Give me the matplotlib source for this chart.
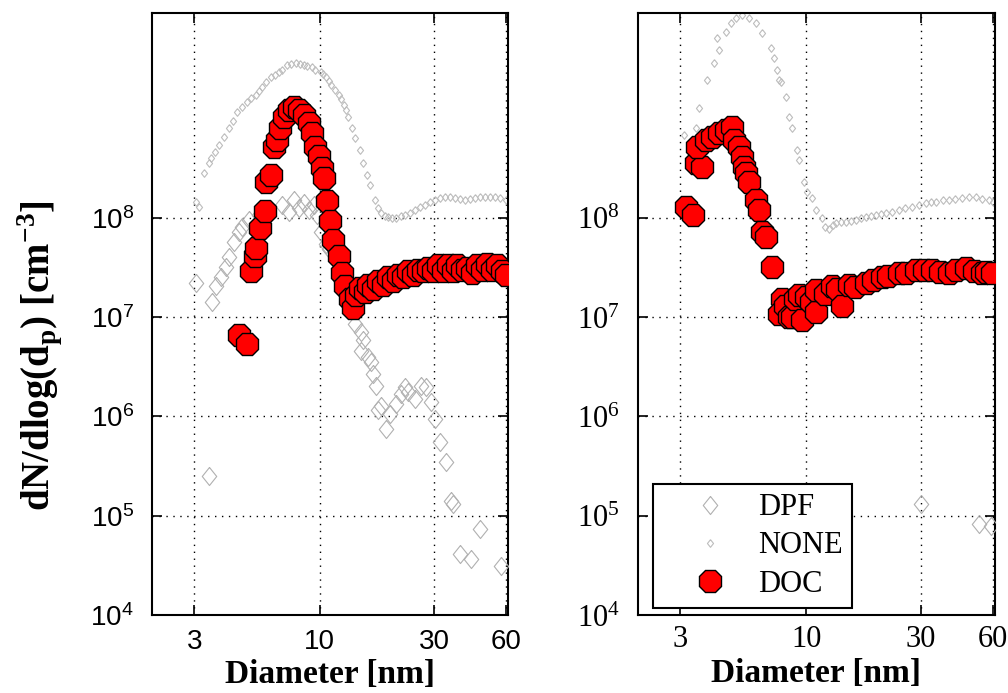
import matplotlib
matplotlib.use('Agg')
import matplotlib.pyplot as plt
import numpy as np

plt.rcParams['mathtext.fontset'] = 'custom'
plt.rcParams['mathtext.rm'] = 'Liberation Serif'
plt.rcParams['mathtext.bf'] = 'Liberation Serif:bold'
plt.rcParams['mathtext.sf'] = 'Liberation Sans'

# ---- left panel data ----
dpf_l_d = [3.06, 3.46, 3.56, 3.70, 3.88, 4.07, 4.19, 4.40, 4.61, 4.75, 5.08, 5.58,
           6.96, 7.44, 7.80, 8.18, 8.58, 9.00, 9.44, 9.72, 10.1, 10.6, 10.9, 12.0, 13.2,
           14.1, 14.9, 15.2, 14.9, 16.0, 16.4, 16.7, 17.2, 18.1, 17.6, 19.0, 19.7, 20.9,
           21.9, 22.7, 23.4, 25.0, 26.5, 27.8, 29.2, 30.3, 31.8, 33.7, 35.3, 36.0, 46.6,
           38.5, 42.7, 56.9]
dpf_l_n = [2.2e7, 2.5e5, 1.43e7, 2.03e7, 2.5e7, 3.2e7, 4.06e7, 5.7e7, 7.1e7, 8.1e7, 9.55e7, 1.07e8,
           1.35e8, 1.15e8, 1.52e8, 1.26e8, 1.42e8, 1.2e8, 1.35e8, 1.07e8, 7.2e7, 5.4e7, 4.8e7, 2.4e7, 1.34e7,
           8.4e6, 7.1e6, 5.9e6, 4.5e6, 4.0e6, 3.5e6, 2.64e6, 2.0e6, 1.26e6, 1.17e6, 7.4e5, 1.05e6, 1.32e6,
           1.66e6, 1.95e6, 1.74e6, 1.48e6, 2.0e6, 1.95e6, 1.39e6, 9.3e5, 5.5e5, 3.45e5, 1.4e5, 1.3e5, 7.3e4,
           4.1e4, 3.65e4, 3.1e4]

none_l_d = [3.06, 3.15, 3.30, 3.46, 3.53, 3.65, 3.81, 4.0, 4.19, 4.35, 4.52, 4.75, 4.98, 5.2,
            5.43, 5.6, 5.74, 6.0, 6.26, 6.5, 6.76, 7.0, 7.30, 7.6, 7.95, 8.3, 8.58, 8.9, 9.26,
            9.6, 10.1, 10.35, 10.6, 10.9, 11.2, 11.6, 12.0, 12.3, 12.6, 12.9, 13.2, 13.6, 14.1,
            14.8, 15.2, 15.7, 16.3, 17.1, 17.6, 18.1, 18.7, 19.3, 20.0, 20.9, 21.8, 22.7, 23.8,
            25.0, 26.2, 27.5, 28.9, 30.3, 31.8, 33.3, 35.0, 36.7, 38.5, 40.4, 42.4, 44.4, 46.6,
            48.8, 51.2, 53.8, 56.5, 59.7]
none_l_n = [1.45e8, 1.29e8, 2.83e8, 3.57e8, 4.0e8, 4.6e8, 5.4e8, 6.5e8, 8.0e8, 9.5e8, 1.16e9,
            1.3e9, 1.47e9, 1.6e9, 1.72e9, 1.9e9, 2.07e9, 2.3e9, 2.61e9, 2.75e9, 2.93e9, 3.1e9,
            3.45e9, 3.55e9, 3.61e9, 3.55e9, 3.45e9, 3.4e9, 3.3e9, 3.1e9, 2.93e9, 2.8e9, 2.61e9,
            2.4e9, 2.17e9, 1.95e9, 1.72e9, 1.55e9, 1.37e9, 1.2e9, 1.04e9, 8.0e8, 6.37e8, 4.8e8,
            3.57e8, 2.7e8, 2.15e8, 1.52e8, 1.26e8, 1.12e8, 1.05e8, 1.02e8, 1.0e8, 1.0e8, 1.03e8,
            1.07e8, 1.12e8, 1.2e8, 1.28e8, 1.35e8, 1.45e8, 1.52e8, 1.58e8, 1.63e8, 1.62e8, 1.59e8,
            1.55e8, 1.52e8, 1.55e8, 1.59e8, 1.62e8, 1.63e8, 1.63e8, 1.63e8, 1.58e8, 1.52e8]

doc_l_d = [4.61, 4.98, 5.16, 5.37, 5.44, 5.67, 5.90, 5.99, 6.28, 6.45, 6.65, 6.87, 7.09, 7.44,
           7.80, 8.18, 8.58, 9.0, 9.29, 9.6, 9.9, 10.2, 10.4, 10.7, 11.1, 11.4, 12.0, 12.4, 12.8,
           13.4, 13.8, 14.2, 14.8, 15.4, 15.9, 16.7, 17.5, 18.4, 19.3, 20.3, 21.2, 22.3, 23.4,
           24.6, 25.7, 27.0, 28.3, 29.7, 31.1, 32.6, 34.2, 35.9, 37.6, 39.4, 41.4, 43.4, 45.5,
           47.7, 50.1, 52.5, 55.1, 57.8, 60.0]
doc_l_n = [6.6e6, 5.3e6, 2.9e7, 4.1e7, 4.96e7, 7.9e7, 1.16e8, 2.3e8, 2.7e8, 5.2e8, 6.1e8, 7.97e8,
           1.04e9, 1.22e9, 1.31e9, 1.22e9, 1.08e9, 8.95e8, 7.1e8, 5.2e8, 4.13e8, 3.16e8, 2.5e8,
           1.46e8, 9.2e7, 6.0e7, 4.1e7, 2.78e7, 2.04e7, 1.5e7, 1.24e7, 1.68e7, 1.98e7, 1.8e7,
           2.1e7, 1.9e7, 2.28e7, 2.1e7, 2.5e7, 2.3e7, 2.67e7, 2.5e7, 2.87e7, 2.67e7, 3.0e7, 2.87e7,
           3.14e7, 2.87e7, 3.3e7, 2.93e7, 3.37e7, 2.87e7, 3.3e7, 3.0e7, 3.14e7, 2.8e7, 3.37e7,
           3.0e7, 3.45e7, 3.0e7, 3.3e7, 2.87e7, 2.67e7]

# ---- right panel data ----
dpf_r_d = [30.0, 52.2, 58.6]
dpf_r_n = [1.3e5, 8.2e4, 7.9e4]

none_r_d = [3.12, 3.50, 3.60, 3.88, 4.15, 4.36, 4.27, 4.66, 4.88, 5.12, 5.43, 5.80, 6.20, 6.57,
            7.16, 7.37, 7.58, 7.73, 7.88, 8.26, 8.50, 8.75, 9.18, 9.35, 9.81, 10.1, 10.6, 11.0,
            11.65, 12.0, 12.5, 12.9, 13.3, 14.0, 14.7, 15.4, 16.1, 16.9, 17.7, 18.6, 19.5, 20.5,
            21.5, 22.8, 24.3, 25.8, 27.5, 29.5, 31.5, 33.0, 34.6, 37.0, 39.2, 41.8, 44.4, 47.5,
            50.7, 54.0, 57.4, 59.9]
none_r_n = [6.8e8, 8.0e8, 1.28e9, 2.44e9, 3.61e9, 4.88e9, 6.44e9, 7.4e9, 9.1e9, 1.02e10, 1.1e10,
            1.02e10, 9.1e9, 7.2e9, 5.1e9, 4.06e9, 3.07e9, 2.44e9, 2.33e9, 1.64e9, 1.04e9, 8.0e8,
            4.8e8, 3.83e8, 2.3e8, 1.82e8, 1.59e8, 1.2e8, 1.0e8, 8.0e7, 7.6e7, 8.5e7, 8.9e7, 9.0e7,
            9.1e7, 9.3e7, 9.55e7, 1.0e8, 1.02e8, 1.05e8, 1.07e8, 1.1e8, 1.12e8, 1.15e8, 1.2e8,
            1.25e8, 1.29e8, 1.35e8, 1.42e8, 1.45e8, 1.45e8, 1.5e8, 1.52e8, 1.55e8, 1.59e8, 1.6e8,
            1.63e8, 1.55e8, 1.52e8, 1.45e8]

doc_r_d = [3.18, 3.37, 3.50, 3.70, 3.53, 3.85, 4.07, 4.36, 4.66, 4.93, 5.03, 5.27, 5.43, 5.5,
           5.64, 5.80, 6.20, 6.38, 6.57, 6.82, 7.22, 7.95, 7.73, 8.2, 8.50, 8.75, 9.0, 9.35, 9.62,
           10.0, 10.5, 11.0, 11.0, 12.0, 12.8, 13.5, 14.1, 15.1, 16.0, 17.7, 19.0, 20.7, 22.0,
           24.3, 26.0, 28.6, 31.0, 33.3, 36.0, 39.2, 42.0, 46.1, 50.0, 53.7, 56.0, 59.5]
doc_r_n = [1.29e8, 1.07e8, 3.57e8, 3.26e8, 5.2e8, 6.1e8, 6.5e8, 7.1e8, 7.7e8, 8.2e8, 6.1e8, 5.2e8,
           4.1e8, 3.26e8, 2.83e8, 2.3e8, 1.52e8, 1.2e8, 7.1e7, 6.4e7, 3.2e7, 1.5e7, 1.06e7, 1.3e7,
           1.0e7, 1.0e7, 1.5e7, 1.68e7, 9.4e6, 1.6e7, 1.4e7, 1.13e7, 1.89e7, 1.7e7, 2.03e7, 1.9e7,
           1.28e7, 2.12e7, 2.0e7, 2.22e7, 2.35e7, 2.55e7, 2.6e7, 2.8e7, 2.75e7, 3.0e7, 2.95e7,
           3.0e7, 2.85e7, 2.8e7, 3.0e7, 3.14e7, 2.9e7, 2.8e7, 2.85e7, 2.8e7]

xticks = [3, 10, 30, 60]
yticks = [1e4, 1e5, 1e6, 1e7, 1e8]

diamond = [(0, 1), (0.8, 0), (0, -1), (-0.8, 0), (0, 1)]
gray_big = '#b0b0b0'
gray_small = '#bdbdbd'


def draw_panel(ax, dpf, none, doc, serif):
    ax.plot(none[0], none[1], ls='none', marker=diamond, ms=5.5, mfc='none',
            mec=gray_small, mew=0.8, label='NONE', zorder=2)
    ax.plot(dpf[0], dpf[1], ls='none', marker=diamond, ms=13, mfc='none',
            mec=gray_big, mew=0.8, label='DPF', zorder=3)
    for i, (x, y) in enumerate(zip(doc[0], doc[1])):
        ax.plot([x], [y], ls='none', marker='8', ms=17, mfc='red', mec='black',
                mew=1.0, zorder=4, label='DOC' if i == 0 else None)
    ax.set_xscale('log')
    ax.set_yscale('log')
    ax.set_xlim(2, 61)
    ax.set_ylim(1e4, 1.15e10)
    ax.set_xticks(xticks)
    ax.set_yticks(yticks)
    ax.minorticks_off()
    ax.grid(True, which='major', ls=(0, (1, 4)), color='black', lw=1.0)
    ax.tick_params(direction='in', length=7, width=1.2, top=True, right=True)
    ax.tick_params(axis='y', pad=13)
    for s in ax.spines.values():
        s.set_linewidth(1.5)
    if serif:
        ax.tick_params(axis='x', pad=7)
        ax.set_xticklabels([str(t) for t in xticks], family='Liberation Serif', fontsize=22)
        ax.set_yticklabels([r'$\mathrm{10^{%d}}$' % int(np.log10(t)) for t in yticks], fontsize=22)
        lp = 3
    else:
        ax.tick_params(axis='x', pad=10)
        ax.set_xticklabels([str(t) for t in xticks], family='Liberation Sans', fontsize=20)
        ax.set_yticklabels([r'$\mathsf{10^{%d}}$' % int(np.log10(t)) for t in yticks], fontsize=20)
        lp = 3
    ax.set_xlabel('Diameter [nm]', family='Liberation Serif', fontweight='bold',
                  fontsize=24, labelpad=lp)


fig = plt.figure(figsize=(10.08, 6.93), dpi=100)
ax1 = fig.add_axes([0.1508, 0.1126, 0.353, 0.8687])
ax2 = fig.add_axes([0.633, 0.1126, 0.354, 0.8687])

draw_panel(ax1, (dpf_l_d, dpf_l_n), (none_l_d, none_l_n), (doc_l_d, doc_l_n), False)
draw_panel(ax2, (dpf_r_d, dpf_r_n), (none_r_d, none_r_n), (doc_r_d, doc_r_n), True)

fig.text(40 / 1008, 1 - 356 / 693, r'dN/dlog(d$_\mathbf{p}$) [cm$^\mathbf{-3}$]',
         rotation=90, ha='center', va='center', family='Liberation Serif',
         fontweight='bold', fontsize=28)

h, l = ax2.get_legend_handles_labels()
order = [l.index('DPF'), l.index('NONE'), l.index('DOC')]
leg = ax2.legend([h[i] for i in order], [l[i] for i in order], loc='lower left',
                 bbox_to_anchor=(0.042, 0.012), borderaxespad=0, fancybox=False,
                 edgecolor='black', framealpha=1, prop={'family': 'Liberation Serif', 'size': 22},
                 handlelength=3.1, handletextpad=0.05, labelspacing=0.3, borderpad=0.3)
leg.get_frame().set_linewidth(1.5)

fig.savefig('out.png', dpi=100)
